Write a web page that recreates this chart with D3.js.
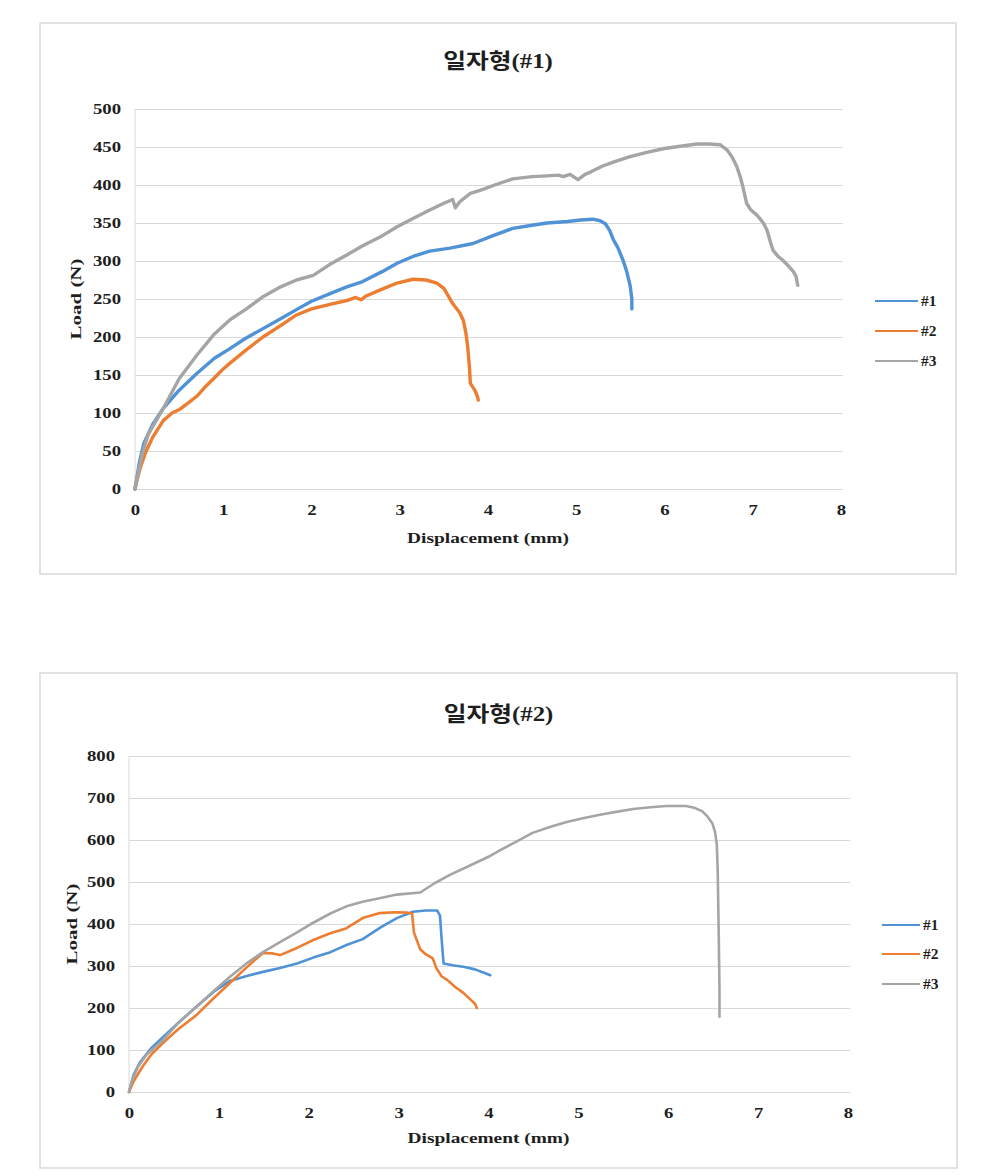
<!DOCTYPE html>
<meta charset="utf-8">
<style>
    body { margin: 0; background: #fff; }
    text { fill: #1e1e1e; font-family: "Liberation Serif", "Times New Roman", serif; font-weight: bold; }
    .grid line { stroke: #d9d9d9; stroke-width: 1; }
    .grid path { display: none; }
    .xaxis path, .xaxis line { display: none; }
    .frame { fill: none; stroke: #d9d9d9; stroke-width: 1.5; }
    .series { fill: none; stroke-linejoin: round; stroke-linecap: round; }
</style>
<body>
<script src="https://cdn.jsdelivr.net/npm/d3@7"></script>
<script>

    // series data: [displacement (mm), load (N)]
    var seriesNames = ["#1", "#2", "#3"];
    var seriesColors = ["#4f92d6", "#ed7d31", "#a5a5a5"];

    var xTicks = [0, 1, 2, 3, 4, 5, 6, 7, 8];
    var yTicks1 = [0, 50, 100, 150, 200, 250, 300, 350, 400, 450, 500];
    var yTicks2 = [0, 100, 200, 300, 400, 500, 600, 700, 800];

    var c1s1 = [[0,0],[0.05,35],[0.1,60],[0.2,85],[0.32,106],[0.5,130],[0.7,152],[0.9,172],[1.08,185],[1.25,198],
        [1.45,211],[1.65,224],[1.83,236],[2.0,247],[2.21,257],[2.4,266],[2.58,273],[2.8,286],[2.97,297],[3.15,306],
        [3.34,313],[3.57,317],[3.83,323],[4.05,333],[4.28,343],[4.5,347],[4.67,350],[4.9,352],[5.05,354],[5.19,355],
        [5.27,353],[5.33,349],[5.38,340],[5.42,328],[5.47,318],[5.53,301],[5.57,287],[5.61,268],[5.63,250],[5.63,237]];

    var c1s2 = [[0,0],[0.03,15],[0.06,28],[0.12,48],[0.2,68],[0.32,90],[0.42,100],[0.51,105],[0.6,113],[0.7,122],
        [0.8,135],[0.89,145],[1.0,158],[1.08,166],[1.25,182],[1.45,200],[1.65,215],[1.83,229],[2.0,237],[2.21,243],
        [2.4,248],[2.5,252],[2.56,249],[2.62,254],[2.78,262],[2.97,271],[3.15,276],[3.3,275],[3.42,271],[3.5,264],
        [3.6,244],[3.68,232],[3.72,222],[3.75,205],[3.77,187],[3.79,160],[3.8,139],[3.85,130],[3.88,122],[3.89,117]];

    var c1s3 = [[0,0],[0.02,12],[0.08,45],[0.15,72],[0.32,106],[0.5,145],[0.7,176],[0.9,204],[1.08,223],[1.25,236],
        [1.45,253],[1.65,266],[1.83,275],[2.02,281],[2.2,295],[2.4,308],[2.58,320],[2.8,333],[2.97,345],[3.15,356],
        [3.34,367],[3.5,376],[3.6,381],[3.63,370],[3.68,378],[3.8,389],[3.91,393],[4.1,401],[4.28,408],[4.5,411],
        [4.67,412],[4.8,413],[4.85,411],[4.93,414],[5.02,407],[5.1,414],[5.16,417],[5.3,425],[5.42,430],[5.6,437],
        [5.8,443],[6.0,448],[6.18,451],[6.37,454],[6.5,454],[6.63,453],[6.71,446],[6.77,436],[6.82,424],[6.86,410],
        [6.89,397],[6.93,376],[6.98,367],[7.05,360],[7.12,350],[7.16,341],[7.2,325],[7.23,314],[7.28,307],[7.34,301],
        [7.4,294],[7.46,286],[7.49,280],[7.51,268]];

    var c2s1 = [[0,0],[0.05,40],[0.12,70],[0.25,105],[0.38,131],[0.55,165],[0.75,203],[0.95,240],[1.12,264],[1.31,276],
        [1.49,286],[1.68,295],[1.87,306],[2.05,320],[2.24,333],[2.42,350],[2.6,364],[2.8,392],[2.98,414],[3.16,429],
        [3.3,432],[3.43,432],[3.46,420],[3.48,360],[3.5,306],[3.6,302],[3.72,298],[3.85,292],[3.95,284],[4.02,278]];

    var c2s2 = [[0,0],[0.05,25],[0.15,60],[0.25,90],[0.38,117],[0.55,150],[0.75,183],[0.95,225],[1.12,259],[1.3,295],
        [1.49,331],[1.6,330],[1.68,326],[1.87,343],[2.05,362],[2.24,378],[2.35,385],[2.42,390],[2.6,414],[2.79,426],
        [2.95,428],[3.1,427],[3.15,425],[3.17,380],[3.24,340],[3.3,328],[3.38,318],[3.42,295],[3.48,275],[3.54,267],
        [3.63,250],[3.72,236],[3.8,220],[3.85,210],[3.87,200]];

    var c2s3 = [[0,0],[0.03,25],[0.1,60],[0.2,90],[0.38,124],[0.55,165],[0.75,203],[0.95,242],[1.12,274],[1.3,305],
        [1.49,333],[1.68,357],[1.87,380],[2.05,403],[2.24,425],[2.42,442],[2.6,453],[2.8,462],[2.98,470],[3.24,475],
        [3.4,497],[3.57,517],[3.8,540],[4.0,560],[4.13,576],[4.3,595],[4.49,617],[4.7,632],[4.87,643],[5.05,652],
        [5.24,660],[5.42,667],[5.61,674],[5.8,678],[5.98,681],[6.2,681],[6.3,676],[6.38,668],[6.44,655],[6.49,640],
        [6.52,620],[6.54,590],[6.55,530],[6.56,400],[6.57,250],[6.57,179]];

    var sx = 1.25; // the source picture is stretched sideways, text too

    var svg = d3.select("body").append("svg")
            .attr("width", 999)
            .attr("height", 1176);

    drawChart({
        box: [40, 23, 916, 551],
        plot: {left: 135, top: 109, width: 706, height: 380},
        title: "(#1)", titleY: 68, yMax: 500, yTicks: yTicks1,
        xTitleY: 543, yTitleX: 81, legendX: 875, legendY: [301, 331, 361], legendTextX: 921,
        lineWidth: 3.4, data: [c1s1, c1s2, c1s3]
    });

    drawChart({
        box: [40, 673, 917, 495],
        plot: {left: 129, top: 756, width: 719, height: 336},
        title: "(#2)", titleY: 721, yMax: 800, yTicks: yTicks2,
        xTitleY: 1143, yTitleX: 77, legendX: 882, legendY: [925, 954, 984], legendTextX: 923,
        lineWidth: 2.6, data: [c2s1, c2s2, c2s3]
    });

    function drawChart(cfg) {
        var b = cfg.box, p = cfg.plot;

        svg.append("rect")
                .attr("class", "frame")
                .attr("x", b[0]).attr("y", b[1])
                .attr("width", b[2]).attr("height", b[3]);

        var x = d3.scaleLinear().domain([0, 8]).range([0, p.width]);
        var y = d3.scaleLinear().domain([0, cfg.yMax]).range([p.height, 0]);

        var g = svg.append("g")
                .attr("transform", "translate(" + p.left + "," + p.top + ")");

        var yAxis = d3.axisLeft(y)
                .tickValues(cfg.yTicks)
                .tickSize(-p.width - 2)
                .tickPadding(14 / sx);

        g.append("g")
                .attr("class", "grid")
                .call(yAxis)
            .selectAll("text")
                .attr("transform", "scale(" + sx + ",1)")
                .style("font-size", "15px");

        g.append("line")
                .attr("x1", 0).attr("x2", 0)
                .attr("y1", 0).attr("y2", p.height)
                .attr("stroke", "#d9d9d9");

        var xAxis = d3.axisBottom(x)
                .tickValues(xTicks)
                .tickSize(0)
                .tickPadding(15);

        g.append("g")
                .attr("class", "xaxis")
                .attr("transform", "translate(0," + p.height + ")")
                .call(xAxis)
            .selectAll("text")
                .attr("transform", "scale(" + sx + ",1)")
                .style("font-size", "15px");

        var line = d3.line()
                .x(function(d) { return x(d[0]); })
                .y(function(d) { return y(d[1]); });

        cfg.data.forEach(function(s, i) {
            g.append("path")
                    .datum(s)
                    .attr("class", "series")
                    .attr("stroke", seriesColors[i])
                    .attr("stroke-width", cfg.lineWidth)
                    .attr("d", line);
        });

        // title: Korean part in sans, the tag in serif
        var t = svg.append("text")
                .attr("transform", "translate(" + (b[0] + b[2] / 2) + "," + cfg.titleY + ") scale(1.18,1)")
                .attr("text-anchor", "middle")
                .style("font-size", "21px");
        t.append("tspan")
                .style("font-family", "'Noto Sans CJK KR', sans-serif")
                .style("font-weight", "bold")
                .text("일자형");
        t.append("tspan")
                .text(cfg.title);

        svg.append("text")
                .attr("transform", "translate(" + (p.left + p.width / 2) + "," + cfg.xTitleY + ") scale(" + sx + ",1)")
                .attr("text-anchor", "middle")
                .style("font-size", "15.5px")
                .text("Displacement (mm)");

        svg.append("text")
                .attr("transform", "translate(" + cfg.yTitleX + "," + (p.top + p.height / 2) + ") rotate(-90) scale(1.4,1)")
                .attr("text-anchor", "middle")
                .style("font-size", "15px")
                .text("Load (N)");

        seriesNames.forEach(function(name, i) {
            var ly = cfg.legendY[i];
            svg.append("line")
                    .attr("x1", cfg.legendX).attr("x2", cfg.legendTextX - 3)
                    .attr("y1", ly).attr("y2", ly)
                    .attr("stroke", seriesColors[i])
                    .attr("stroke-width", 2);
            svg.append("text")
                    .attr("transform", "translate(" + cfg.legendTextX + "," + (ly + 5) + ") scale(1.1,1)")
                    .style("font-size", "14px")
                    .text(name);
        });
    }

</script>
